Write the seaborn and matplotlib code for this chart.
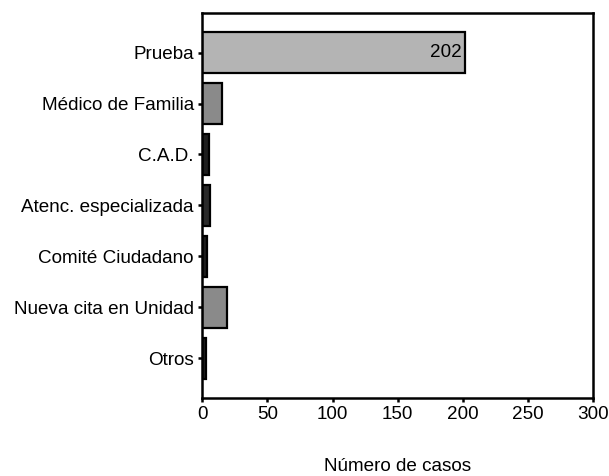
import matplotlib
matplotlib.use('Agg')
import matplotlib.pyplot as plt
import seaborn as sns
import pandas as pd

categorias = ['Prueba', 'Médico de Familia', 'C.A.D.', 'Atenc. especializada',
              'Comité Ciudadano', 'Nueva cita en Unidad', 'Otros']
casos = [202, 15, 5, 6, 4, 19, 3]
colores = ['#b4b4b4', '#8a8a8a', '#1e1e1e', '#2a2a2a', '#1e1e1e', '#8a8a8a', '#1e1e1e']

df = pd.DataFrame({'motivo': categorias, 'casos': casos})

sns.set_style('white')
plt.rcParams['font.family'] = ['Liberation Sans', 'DejaVu Sans']
fs = 13.6

fig = plt.figure(figsize=(6.09, 4.76), dpi=100)
ax = fig.add_axes([0.332, 0.164, 0.642, 0.809])

sns.barplot(data=df, x='casos', y='motivo', hue='motivo', palette=colores,
            legend=False, orient='h', width=0.8, edgecolor='black',
            linewidth=1.6, saturation=1, ax=ax)

# etiqueta del valor dentro de la barra mayor
ax.annotate(str(casos[0]), xy=(casos[0], 0), xytext=(-3, 0),
            textcoords='offset points', ha='right', va='center',
            fontsize=fs, color='black')

ax.set_xlim(0, 300)
ax.set_ylim(6.78, -0.78)
ax.set_xticks([0, 50, 100, 150, 200, 250, 300])
ax.set_xlabel('Número de casos', fontsize=fs, labelpad=25, color='black')
ax.set_ylabel('')
ax.tick_params(axis='both', labelsize=fs, colors='black', direction='out',
               length=3, width=1.8, left=True, bottom=True, pad=3)
for s in ax.spines.values():
    s.set_visible(True)
    s.set_color('black')
    s.set_linewidth(1.8)

fig.savefig('out.png', dpi=100)
